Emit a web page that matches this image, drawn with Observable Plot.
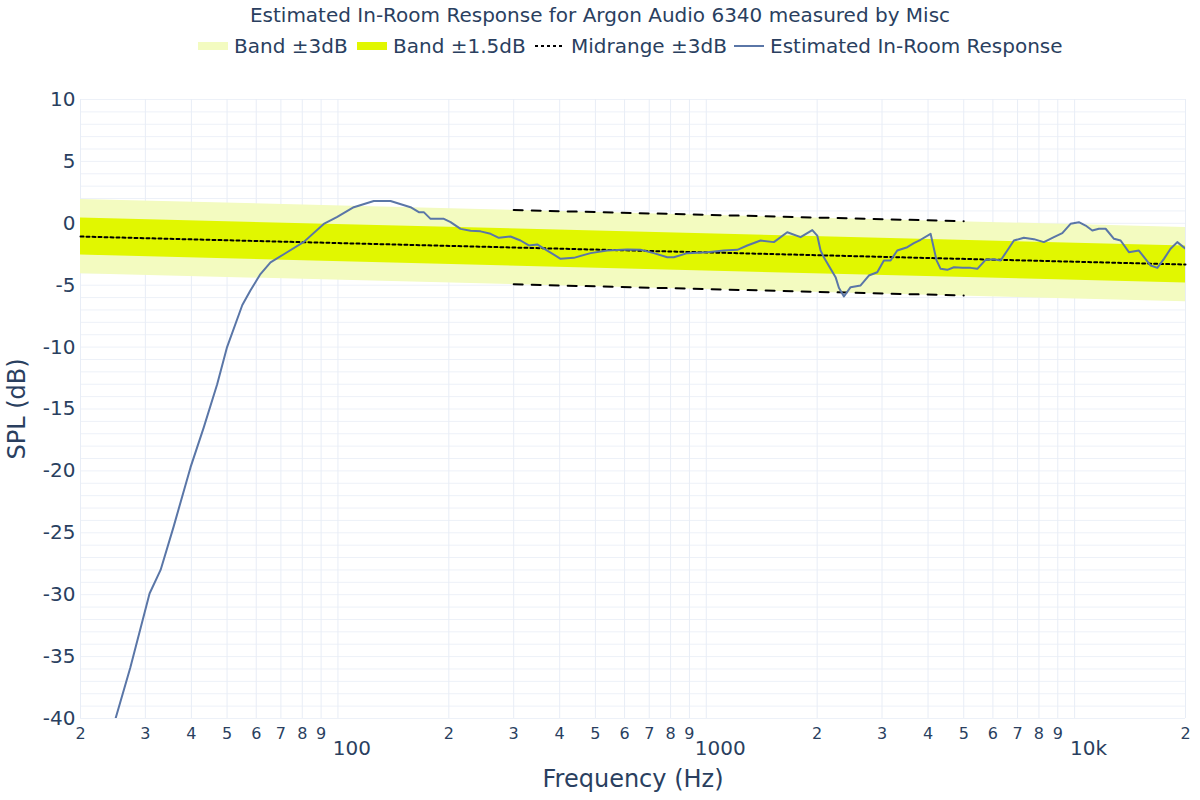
<!DOCTYPE html>
<html><head><meta charset="utf-8">
<script src="https://cdn.jsdelivr.net/npm/d3@7"></script>
<script src="https://cdn.jsdelivr.net/npm/@observablehq/plot@0.6"></script>
<style>
body{margin:0;background:#fff;font-family:"DejaVu Sans",Verdana,sans-serif;color:#2a3f5f}
#wrap{position:relative;width:1200px;height:800px}
#title{position:absolute;top:3px;left:0;width:1200px;text-align:center;font-size:20px;line-height:24px;white-space:nowrap}
.item{position:absolute;top:34px;height:24px;font-size:20px;line-height:24px;white-space:nowrap}
.item svg{position:absolute;left:0;top:0}
.item span{position:absolute;left:36px;top:0}
#chart{position:absolute;left:0;top:0}
</style></head>
<body>
<div id="wrap">
<div id="chart"></div>
<div id="title">Estimated In-Room Response for Argon Audio 6340 measured by Misc</div>
<div id="legend"></div>
</div>
<script>
// ---- data ----
const freq = [24.9,27.3,30.8,33.0,35.8,39.8,43.2,47.0,50.0,55,57.9,61.6,65.6,71.3,80.8,91.5,99.3,110.4,125.1,138.9,157.4,165.8,171,178.4,193.9,202.2,215.2,229.1,243.9,259.6,273.4,294.1,313.1,329.8,347.5,370.1,402.2,436.9,485.1,538.4,610.2,663,720.4,783.4,816.6,887.9,1006,1116,1214,1292,1404,1526,1659,1803,1940,2001,2043,2085,2175,2244,2291,2364,2465,2624,2763,2912,3035,3164,3300,3513,3661,3818,4064,4219,4327,4512,4702,4955,5219,5443,5731,6037,6295,6565,6842,7281,7752,8251,8785,9259,9750,10270,10710,11170,11640,12140,12790,13330,14040,14940,16090,16770,17480,18220,19000,20000];
const spl = [-40,-35.9,-29.9,-28.0,-24.5,-19.7,-16.5,-13.0,-10.0,-6.6,-5.4,-4.1,-3.15,-2.5,-1.5,-0.05,0.5,1.3,1.8,1.8,1.3,0.9,0.9,0.36,0.36,0.1,-0.45,-0.6,-0.65,-0.85,-1.17,-1.07,-1.39,-1.79,-1.71,-2.2,-2.87,-2.79,-2.41,-2.2,-2.11,-2.14,-2.41,-2.74,-2.74,-2.41,-2.33,-2.2,-2.14,-1.79,-1.39,-1.52,-0.72,-1.12,-0.55,-0.99,-2.2,-2.74,-3.68,-4.35,-5.2,-5.91,-5.16,-5.02,-4.22,-3.95,-3.0,-3.0,-2.2,-1.93,-1.61,-1.33,-0.85,-3.0,-3.68,-3.76,-3.55,-3.6,-3.6,-3.68,-2.95,-2.9,-3.0,-2.2,-1.39,-1.17,-1.28,-1.52,-1.12,-0.8,-0.04,0.09,-0.18,-0.58,-0.44,-0.44,-1.25,-1.39,-2.33,-2.2,-3.41,-3.6,-2.87,-2.06,-1.52,-2.06];
const bandFreq = [20, 20000];
const bandCenter = [-1.07, -3.33];
const midFreq = [300, 5000];
const midCenter = [-1.93, -2.83];
const bandWide = 3;
const bandNarrow = 1.5;
const gridFreq = [20,30,40,50,60,70,80,90,100,200,300,400,500,600,700,800,900,1000,2000,3000,4000,5000,6000,7000,8000,9000,10000,20000];
const gridDb = d3.range(-40, 11, 1);
const yTicks = [-40,-35,-30,-25,-20,-15,-10,-5,0,5,10];
const yTickLabels = ["-40","-35","-30","-25","-20","-15","-10","-5","0","5","10"];
const minorTickFreq = [20,30,40,50,60,70,80,90,200,300,400,500,600,700,800,900,2000,3000,4000,5000,6000,7000,8000,9000,20000];
const minorTickLabels = ["2","3","4","5","6","7","8","9","2","3","4","5","6","7","8","9","2","3","4","5","6","7","8","9","2"];
const majorTickFreq = [100,1000,10000];
const majorTickLabels = ["100","1000","10k"];
const legendNames = ["Band ±3dB","Band ±1.5dB","Midrange ±3dB","Estimated In-Room Response"];

// ---- colours ----
const lightBand = "#f3fbc0";
const darkBand = "#e1f700";
const lineColor = "#5a76a7";
const textColor = "#2a3f5f";

const band = bandFreq.map((f,i)=>({f, c: bandCenter[i]}));
const mid = midFreq.map((f,i)=>({f, c: midCenter[i]}));
const resp = freq.map((f,i)=>({f, v: spl[i]}));

const chart = Plot.plot({
  width: 1200, height: 800,
  marginTop: 99, marginBottom: 82, marginLeft: 80, marginRight: 15,
  style: {fontFamily: '"DejaVu Sans", Verdana, sans-serif', color: textColor, background: "#fff"},
  x: {type: "log", domain: [20, 20000], axis: null},
  y: {domain: [-40, 10], axis: null},
  marks: [
    Plot.ruleY(gridDb, {y: d=>d, stroke: "#edf1f8", strokeWidth: 1}),
    Plot.ruleX(gridFreq, {x: d=>d, stroke: "#e8edf6", strokeWidth: 1}),
    Plot.areaY(band, {x: "f", y1: d=>d.c-bandWide, y2: d=>d.c+bandWide, fill: lightBand}),
    Plot.areaY(band, {x: "f", y1: d=>d.c-bandNarrow, y2: d=>d.c+bandNarrow, fill: darkBand}),
    Plot.line(band, {x: "f", y: "c", stroke: "black", strokeWidth: 2, strokeDasharray: "3,3"}),
    Plot.line(mid, {x: "f", y: d=>d.c+bandWide, stroke: "black", strokeWidth: 2, strokeDasharray: "9,9"}),
    Plot.line(mid, {x: "f", y: d=>d.c-bandWide, stroke: "black", strokeWidth: 2, strokeDasharray: "9,9"}),
    Plot.line(resp, {x: "f", y: "v", stroke: lineColor, strokeWidth: 2, clip: true}),
    Plot.text(yTicks, {y: d=>d, frameAnchor: "left", dx: -5, textAnchor: "end", lineAnchor: "middle", text: (d,i)=>yTickLabels[i], fontSize: 20, fill: textColor}),
    Plot.text(minorTickFreq, {x: d=>d, frameAnchor: "bottom", lineAnchor: "middle", dy: 15, text: (d,i)=>minorTickLabels[i], fontSize: 16, fill: textColor}),
    Plot.text(majorTickFreq, {x: d=>d, frameAnchor: "bottom", lineAnchor: "middle", dy: 30, dx: 14, text: (d,i)=>majorTickLabels[i], fontSize: 20, fill: textColor}),
    Plot.text(["Frequency (Hz)"], {frameAnchor: "bottom", lineAnchor: "middle", dy: 61, text: d=>d, fontSize: 24, fill: textColor}),
    Plot.text(["SPL (dB)"], {frameAnchor: "left", textAnchor: "middle", lineAnchor: "middle", dx: -63, rotate: -90, text: d=>d, fontSize: 24, fill: textColor})
  ]
});
document.getElementById("chart").appendChild(chart);

// ---- legend ----
const legendLeft = [198, 357, 535, 734];
const legendSym = [
  `<line x1="0" x2="30" y1="12" y2="12" stroke="${lightBand}" stroke-width="8"/>`,
  `<line x1="0" x2="30" y1="12" y2="12" stroke="${darkBand}" stroke-width="8"/>`,
  `<line x1="0" x2="30" y1="12" y2="12" stroke="black" stroke-width="2" stroke-dasharray="3,3"/>`,
  `<line x1="0" x2="30" y1="12" y2="12" stroke="${lineColor}" stroke-width="2"/>`
];
const leg = document.getElementById("legend");
legendNames.forEach((name, i) => {
  const d = document.createElement("div");
  d.className = "item";
  d.style.left = legendLeft[i] + "px";
  d.innerHTML = `<svg width="30" height="24">${legendSym[i]}</svg><span>${name}</span>`;
  leg.appendChild(d);
});
</script>
</body></html>
